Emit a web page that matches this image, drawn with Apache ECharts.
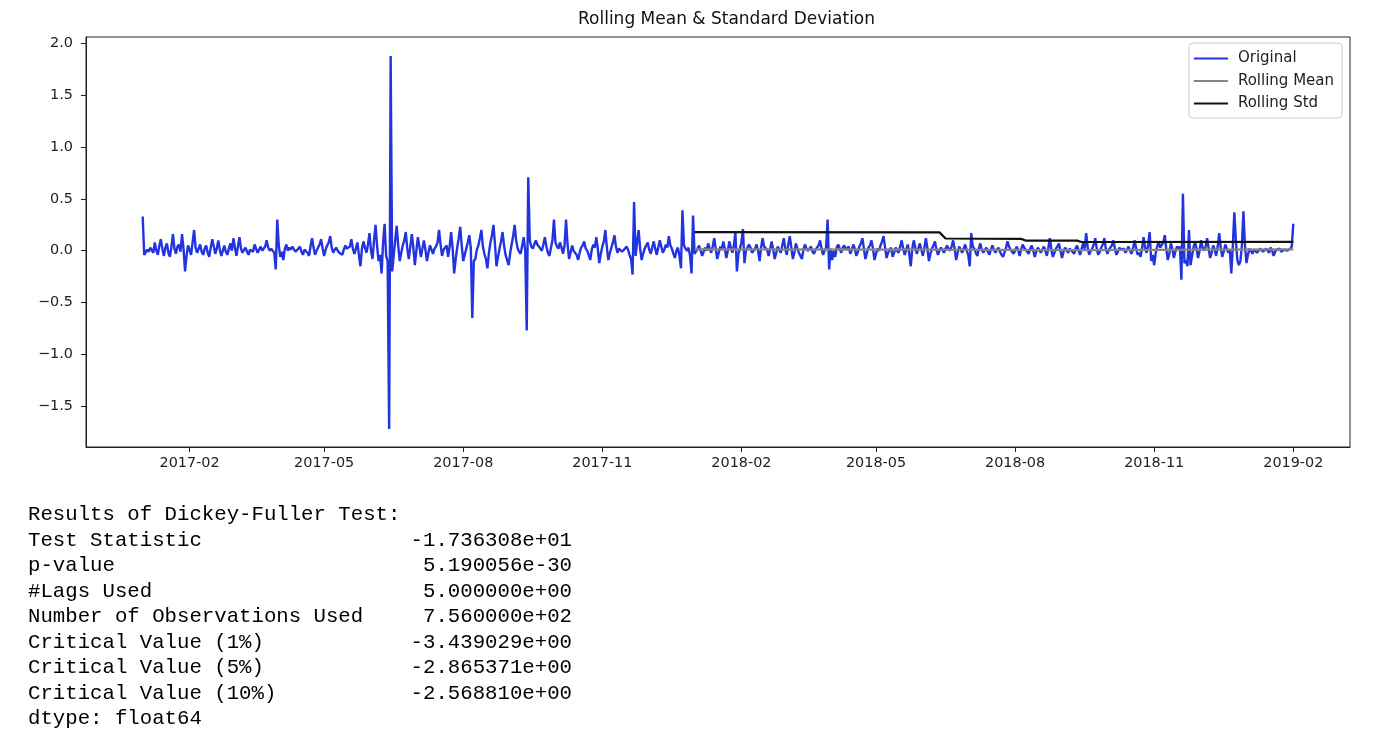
<!DOCTYPE html>
<html>
<head>
<meta charset="utf-8">
<title>Rolling Mean & Standard Deviation</title>
<script src="https://cdn.jsdelivr.net/npm/echarts@6/dist/echarts.min.js"></script>
<style>
  html, body { margin: 0; padding: 0; background: #fff; }
  #chart { width: 1400px; height: 745px; }
</style>
</head>
<body>
<div id="chart"></div>
<script>
// daily series from 2017-01-01 (one value per day, 20 per row)
var startDate = '2017-01-01';
var stepDays = 1;
var originalValues = [
  0.33, -0.04, -0.03, 0.01, -0.01, 0.03, 0.02, -0.02, 0.08, 0.0, -0.04, 0.05, 0.11, 0.02, -0.05, 0.03, 0.07, -0.02, -0.06, 0.04,
  0.16, 0.02, -0.03, 0.04, 0.06, -0.01, 0.16, 0.02, -0.2, -0.05, 0.05, 0.01, -0.04, 0.08, 0.2, 0.03, -0.02, 0.02, 0.06, -0.01,
  -0.04, 0.02, 0.05, -0.02, -0.06, 0.03, 0.11, 0.04, -0.03, 0.02, 0.1, 0.01, -0.05, 0.0, 0.05, -0.01, -0.04, 0.02, 0.07, 0.0,
  0.12, 0.03, -0.05, 0.04, 0.13, 0.02, -0.02, 0.01, 0.03, -0.01, -0.04, 0.01, 0.02, -0.01, 0.06, 0.02, -0.02, 0.01, 0.04, 0.0,
  0.01, 0.04, 0.1, 0.03, 0.0, 0.02, 0.03, -0.02, -0.18, 0.3, 0.05, -0.06, -0.01, -0.09, 0.02, 0.06, 0.0, 0.03, 0.01, 0.04,
  0.05, -0.01, 0.0, 0.02, 0.04, -0.01, -0.04, 0.01, 0.02, -0.02, -0.05, 0.04, 0.12, 0.03, -0.04, 0.0, 0.03, 0.06, 0.11, 0.02,
  -0.05, 0.01, 0.05, 0.08, 0.14, 0.03, -0.02, 0.01, 0.03, 0.0, -0.02, -0.01, -0.04, 0.01, 0.05, 0.02, 0.01, 0.04, 0.11, 0.02,
  -0.03, 0.02, 0.08, -0.04, -0.15, 0.02, 0.09, 0.03, -0.02, 0.06, 0.17, 0.0, -0.08, 0.1, 0.25, 0.05, -0.1, -0.04, -0.22, 0.08,
  0.26, -0.05, -0.1, -1.72, 1.88, -0.2, -0.05, 0.1, 0.24, 0.05, -0.1, -0.02, 0.05, 0.1, 0.18, 0.02, -0.08, 0.04, 0.16, 0.03,
  -0.14, 0.0, 0.13, 0.04, -0.06, 0.02, 0.1, 0.01, -0.1, -0.02, 0.05, 0.01, -0.03, 0.02, 0.04, 0.08, 0.2, 0.06, -0.05, 0.01,
  0.02, 0.05, -0.06, 0.04, 0.18, 0.02, -0.22, -0.08, 0.03, 0.12, 0.23, 0.05, -0.1, -0.04, 0.02, 0.08, 0.15, 0.03, -0.65, -0.1,
  -0.08, 0.01, 0.05, 0.12, 0.2, 0.04, -0.03, -0.08, -0.17, -0.02, 0.08, 0.15, 0.25, 0.06, -0.15, -0.06, 0.02, 0.09, 0.18, 0.05,
  -0.04, -0.09, -0.14, -0.03, 0.06, 0.14, 0.25, 0.1, 0.02, -0.01, -0.03, 0.05, 0.13, 0.0, -0.77, 0.71, 0.1, 0.04, 0.02, 0.06,
  0.1, 0.06, 0.04, 0.02, 0.0, 0.06, 0.13, 0.04, -0.02, -0.05, -0.06, 0.1, 0.3, 0.08, 0.04, 0.02, 0.08, 0.03, -0.03, 0.05,
  0.3, 0.06, -0.08, -0.02, 0.05, 0.0, 0.01, -0.04, -0.09, -0.02, 0.03, 0.05, 0.09, 0.02, 0.0, -0.04, -0.09, 0.01, 0.06, 0.03,
  0.13, 0.02, -0.12, -0.03, 0.04, 0.09, 0.2, 0.03, -0.09, -0.02, 0.03, 0.08, 0.15, 0.04, -0.02, 0.02, 0.01, -0.01, 0.0, 0.02,
  0.04, 0.01, -0.04, -0.08, -0.23, 0.47, -0.05, 0.08, 0.2, 0.02, -0.09, -0.03, 0.02, 0.05, 0.08, 0.01, -0.03, 0.03, 0.09, 0.02,
  -0.04, 0.03, 0.1, 0.04, -0.02, 0.01, 0.06, 0.03, 0.14, 0.05, 0.02, -0.03, -0.07, 0.0, 0.03, -0.05, -0.17, 0.39, 0.05, 0.02,
  0.0, 0.03, -0.05, -0.22, 0.34, -0.03, -0.03, 0.02, 0.05, 0.0, -0.05, -0.01, 0.03, 0.0, 0.07, 0.02, -0.02, 0.04, 0.12, 0.02,
  -0.08, -0.02, 0.04, 0.01, 0.09, 0.02, -0.07, 0.0, 0.09, 0.03, -0.02, 0.05, 0.18, -0.2, -0.03, 0.02, 0.08, 0.21, -0.12, 0.0,
  0.03, 0.06, 0.03, -0.02, -0.02, 0.02, 0.06, 0.0, -0.1, 0.03, 0.12, 0.04, 0.05, 0.01, -0.05, 0.02, 0.09, 0.01, -0.08, -0.02,
  0.04, 0.01, -0.02, 0.05, 0.12, 0.02, -0.04, 0.06, 0.14, 0.03, -0.08, -0.02, 0.07, 0.02, -0.02, -0.05, -0.08, 0.01, 0.06, 0.02,
  0.0, 0.02, 0.04, -0.01, -0.03, 0.01, 0.02, 0.05, 0.1, 0.02, -0.04, 0.0, 0.03, 0.3, -0.18, 0.02, -0.09, 0.0, -0.06, 0.03,
  0.06, 0.02, -0.02, 0.03, 0.05, 0.01, 0.0, 0.04, -0.03, 0.01, 0.06, 0.02, -0.05, -0.01, 0.04, 0.07, 0.12, 0.02, -0.08, -0.02,
  0.03, 0.05, 0.1, 0.02, -0.09, -0.03, 0.02, 0.0, 0.05, 0.09, 0.14, 0.03, -0.07, -0.02, 0.01, 0.03, -0.06, -0.02, 0.03, 0.0,
  -0.02, 0.04, 0.1, 0.02, -0.04, 0.01, 0.06, -0.03, -0.15, 0.02, 0.1, 0.03, -0.03, 0.02, 0.07, 0.01, -0.05, 0.03, 0.12, 0.02,
  -0.1, -0.03, 0.02, 0.05, 0.09, 0.01, -0.04, 0.0, 0.03, 0.01, -0.02, 0.02, 0.05, 0.02, 0.0, 0.04, 0.1, 0.02, -0.09, -0.02,
  0.04, 0.01, -0.02, 0.02, 0.06, 0.0, -0.04, -0.15, 0.17, 0.04, 0.02, -0.02, -0.05, 0.02, 0.07, 0.01, -0.02, 0.01, 0.03, -0.01,
  -0.04, 0.01, 0.05, 0.01, -0.02, 0.01, 0.03, -0.01, -0.04, -0.06, -0.07, 0.03, 0.09, 0.04, 0.01, -0.01, -0.03, 0.0, 0.04, 0.01,
  -0.05, 0.01, 0.06, 0.03, 0.02, -0.01, -0.03, 0.02, 0.05, 0.0, -0.06, -0.01, 0.03, 0.01, -0.02, 0.01, 0.04, 0.0, -0.05, 0.03,
  0.12, 0.01, -0.06, -0.02, 0.02, 0.04, 0.07, 0.0, -0.07, -0.01, 0.03, 0.01, -0.02, 0.02, 0.01, -0.01, -0.03, 0.02, 0.05, 0.0,
  -0.04, 0.02, 0.07, 0.02, 0.17, 0.03, -0.04, 0.0, 0.02, 0.06, 0.12, 0.02, -0.04, -0.01, 0.03, 0.06, 0.12, 0.02, -0.03, 0.01,
  0.02, 0.05, 0.1, 0.02, -0.04, -0.01, 0.03, 0.01, 0.0, 0.02, -0.02, 0.01, 0.04, 0.0, -0.03, 0.02, 0.1, 0.03, -0.04, -0.02,
  -0.06, 0.03, 0.13, 0.02, -0.02, 0.06, 0.18, -0.1, -0.04, -0.14, -0.02, 0.04, 0.09, 0.03, 0.02, 0.08, 0.15, 0.01, -0.09, -0.03,
  0.07, 0.02, -0.07, -0.01, 0.04, 0.02, 0.04, -0.28, 0.55, -0.12, -0.09, -0.15, 0.2, -0.14, -0.05, 0.03, 0.09, 0.02, -0.07, 0.0,
  0.1, 0.03, 0.0, 0.04, 0.12, 0.02, -0.07, -0.02, 0.05, 0.01, -0.05, 0.04, 0.17, 0.03, -0.06, -0.01, 0.06, 0.02, -0.02, 0.01,
  -0.22, 0.05, 0.37, 0.1, -0.09, -0.14, -0.1, 0.05, 0.38, 0.06, -0.12, -0.04, 0.02, 0.0, -0.03, 0.01, 0.01, -0.02, 0.0, 0.02,
  0.03, -0.01, -0.02, 0.02, 0.01, -0.02, 0.03, 0.0, -0.05, -0.01, 0.01, 0.02, 0.02, -0.01, -0.02, 0.01, 0.01, 0.0, -0.01, 0.02,
  0.04, 0.26
];

// rolling window only has values from 2018 on
var rollDates = ['2018-01-01', '2018-06-12', '2018-06-16', '2018-08-05', '2018-08-08', '2018-09-11', '2018-09-14', '2019-02-01'];
var rollMean = [0.012, 0.011, 0.009, 0.008, 0.007, 0.006, 0.005, 0.012];
var rollStd = [0.18, 0.177, 0.118, 0.114, 0.098, 0.097, 0.084, 0.085];

var xTickLabels = ['2017-02', '2017-05', '2017-08', '2017-11', '2018-02', '2018-05', '2018-08', '2018-11', '2019-02'];
var yTicks = [-1.5, -1.0, -0.5, 0.0, 0.5, 1.0, 1.5, 2.0];

var dfLabels = ['Test Statistic', 'p-value', '#Lags Used', 'Number of Observations Used',
  'Critical Value (1%)', 'Critical Value (5%)', 'Critical Value (10%)'];
var dfValues = ['-1.736308e+01', '5.190056e-30', '5.000000e+00', '7.560000e+02',
  '-3.439029e+00', '-2.865371e+00', '-2.568810e+00'];

function ts(s) {
  var p = s.split('-').map(Number);
  return new Date(p[0], p[1] - 1, p[2] || 1).getTime();
}

var DAY = 24 * 3600 * 1000;
var t0 = ts(startDate);
var originalData = originalValues.map(function (v, i) { return [t0 + i * stepDays * DAY, v]; });
var meanData = rollDates.map(function (d, i) { return [ts(d), rollMean[i]]; });
var stdData = rollDates.map(function (d, i) { return [ts(d), rollStd[i]]; });
var xTickValues = xTickLabels.map(ts);

var axisColor = '#222';
var font = 'DejaVu Sans';
var mono = '"Liberation Mono", "DejaVu Sans Mono", monospace';
var monoFont = '20.7px ' + mono;

// Dickey-Fuller printout under the plot
var textEls = [];
var lineY = 515, lineH = 25.5;
textEls.push({ type: 'text', style: { text: 'Results of Dickey-Fuller Test:', x: 28, y: lineY, font: monoFont, fill: '#000', textVerticalAlign: 'middle' } });
dfLabels.forEach(function (lab, i) {
  var y = lineY + lineH * (i + 1);
  textEls.push({ type: 'text', style: { text: lab, x: 28, y: y, font: monoFont, fill: '#000', textVerticalAlign: 'middle' } });
  textEls.push({ type: 'text', style: { text: dfValues[i], x: 572, y: y, font: monoFont, fill: '#000', textAlign: 'right', textVerticalAlign: 'middle' } });
});
textEls.push({ type: 'text', style: { text: 'dtype: float64', x: 28, y: lineY + lineH * 8, font: monoFont, fill: '#000', textVerticalAlign: 'middle' } });

var chart = echarts.init(document.getElementById('chart'));
chart.setOption({
  animation: false,
  backgroundColor: '#fff',
  title: {
    text: 'Rolling Mean & Standard Deviation',
    left: 573,
    top: 6,
    textStyle: { fontFamily: font, fontSize: 17, fontWeight: 'normal', color: '#111' }
  },
  legend: {
    orient: 'vertical',
    right: 58,
    top: 43,
    padding: [8, 8, 7, 5],
    itemGap: 7.5,
    itemWidth: 34,
    itemHeight: 2,
    icon: 'rect',
    borderColor: '#ccc',
    borderWidth: 1,
    borderRadius: 4,
    backgroundColor: 'rgba(255,255,255,0.8)',
    textStyle: { fontFamily: font, fontSize: 15, color: '#222', padding: [0, 0, 0, 5] },
    data: ['Original', 'Rolling Mean', 'Rolling Std']
  },
  grid: {
    left: 86,
    right: 50,
    top: 37,
    bottom: 298,
    show: true,
    borderColor: axisColor,
    borderWidth: 1,
    backgroundColor: 'transparent'
  },
  xAxis: {
    // dates as millisecond values so the month ticks can be placed exactly
    type: 'value',
    min: ts('2016-11-24') + DAY / 2,
    max: ts('2019-03-10') + DAY / 2,
    axisLine: { show: true, onZero: false, lineStyle: { color: axisColor, width: 1 } },
    axisTick: { show: true, length: 5, lineStyle: { color: axisColor }, customValues: xTickValues },
    axisLabel: {
      customValues: xTickValues,
      margin: 9,
      color: '#222',
      fontFamily: font,
      fontSize: 14.4,
      formatter: function (v) {
        var d = new Date(v);
        return d.getFullYear() + '-' + String(d.getMonth() + 1).padStart(2, '0');
      }
    },
    splitLine: { show: false }
  },
  yAxis: {
    type: 'value',
    min: -1.895,
    max: 2.063,
    axisLine: { show: true, onZero: false, lineStyle: { color: axisColor, width: 1 } },
    axisTick: { show: true, length: 5, lineStyle: { color: axisColor }, customValues: yTicks },
    axisLabel: {
      customValues: yTicks,
      margin: 13,
      color: '#222',
      fontFamily: font,
      fontSize: 14.4,
      formatter: function (v) { return v.toFixed(1).replace('-', '\u2212'); }
    },
    splitLine: { show: false }
  },
  series: [
    {
      name: 'Original', type: 'line', data: originalData,
      showSymbol: false, symbol: 'none',
      color: '#2233e0',
      lineStyle: { color: '#2233e0', width: 2.4 },
      emphasis: { disabled: true }
    },
    {
      name: 'Rolling Mean', type: 'line', data: meanData,
      showSymbol: false, symbol: 'none',
      color: '#8a8282',
      lineStyle: { color: '#8a8282', width: 2.2 },
      emphasis: { disabled: true }
    },
    {
      name: 'Rolling Std', type: 'line', data: stdData,
      showSymbol: false, symbol: 'none',
      color: '#111',
      lineStyle: { color: '#111', width: 2.2 },
      emphasis: { disabled: true }
    }
  ],
  graphic: textEls
});
</script>
</body>
</html>
